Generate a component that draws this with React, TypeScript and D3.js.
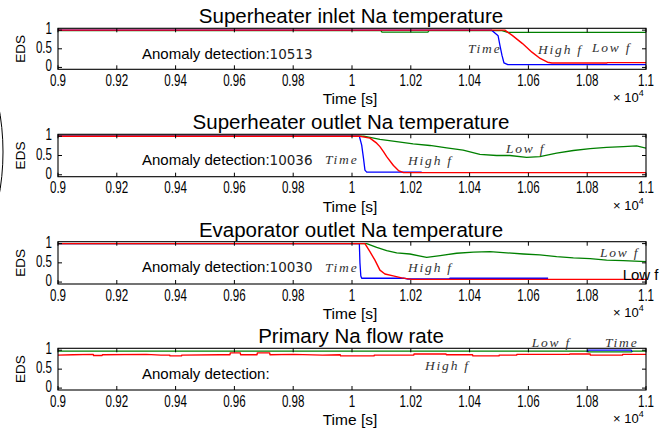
import * as d3 from "d3";

type Pt = [number, number];

const titles = [
  "Superheater inlet Na temperature",
  "Superheater outlet Na temperature",
  "Evaporator outlet Na temperature",
  "Primary Na flow rate",
];
const detections = ["10513", "10036", "10030", ""];
const xTicks = [0.9, 0.92, 0.94, 0.96, 0.98, 1.0, 1.02, 1.04, 1.06, 1.08, 1.1];
const yTicks = [0, 0.5, 1];

// "Time" method (blue)
const timeSeries: Pt[][] = [
  [[0.9, 1], [1.0475, 1], [1.0497, 0.85], [1.0503, 0.6], [1.051, 0.33], [1.0517, 0.12], [1.053, 0.075], [1.1, 0.075]],
  [[0.9, 1], [1.0025, 1], [1.0033, 0.77], [1.0039, 0.43], [1.0044, 0.12], [1.005, 0.07], [1.0237, 0.07]],
  [[0.9, 1], [1.0025, 1], [1.0027, 0.5], [1.003, 0.16], [1.0033, 0.1], [1.0175, 0.1], [1.019, 0.08], [1.033, 0.08], [1.0333, 0.1], [1.0667, 0.1]],
  [[1.08, 0.96], [1.0802, 1.0], [1.095, 1.0], [1.0952, 0.96]],
];

// "High f" method (red)
const highSeries: Pt[][] = [
  [[0.9, 1], [1.052, 1], [1.0545, 0.86], [1.058, 0.64], [1.0612, 0.41], [1.064, 0.24], [1.0665, 0.14], [1.068, 0.12], [1.0867, 0.12], [1.087, 0.13], [1.1, 0.13]],
  [[0.9, 1], [1.0027, 1], [1.0061, 0.95], [1.0084, 0.82], [1.0095, 0.73], [1.0107, 0.6], [1.0118, 0.47], [1.0135, 0.3], [1.0141, 0.24], [1.0158, 0.11], [1.0175, 0.055], [1.1, 0.055]],
  [[0.9, 1], [1.0044, 1], [1.0061, 0.79], [1.0078, 0.57], [1.0095, 0.31], [1.0112, 0.21], [1.014, 0.16], [1.0169, 0.11], [1.0203, 0.07], [1.1, 0.07]],
  [[0.9, 0.87], [0.905, 0.88], [0.912, 0.89], [0.9121, 0.86], [0.915, 0.86], [0.9151, 0.88], [0.93, 0.89], [0.935, 0.87], [0.938, 0.87], [0.9381, 0.85], [0.942, 0.85], [0.9421, 0.87], [0.955, 0.88], [0.9585, 0.88], [0.9586, 0.93], [0.962, 0.93], [0.9621, 0.88], [0.9677, 0.88], [0.9678, 0.93], [0.972, 0.93], [0.9721, 0.88], [0.98, 0.89], [0.99, 0.87], [0.996, 0.88], [0.9961, 0.85], [1.0075, 0.85], [1.0076, 0.87], [1.021, 0.87], [1.0211, 0.9], [1.032, 0.9], [1.0321, 0.88], [1.041, 0.88], [1.0411, 0.85], [1.05, 0.85], [1.0501, 0.87], [1.056, 0.87], [1.0561, 0.89], [1.074, 0.89], [1.0741, 0.9], [1.081, 0.9], [1.0811, 0.87], [1.092, 0.87], [1.0921, 0.89], [1.1, 0.89]],
];

// "Low f" method (green)
const lowSeries: Pt[][] = [
  [[0.9, 0.99], [1.0098, 0.99], [1.0102, 0.945], [1.0258, 0.945], [1.0262, 0.99], [1.051, 0.99], [1.053, 0.94], [1.1, 0.94]],
  [[0.9, 1], [1.004, 1], [1.0095, 0.92], [1.0152, 0.86], [1.0208, 0.8], [1.0265, 0.76], [1.0322, 0.7], [1.0378, 0.64], [1.0435, 0.53], [1.0492, 0.5], [1.0537, 0.5], [1.0594, 0.45], [1.0639, 0.47], [1.0696, 0.56], [1.0753, 0.63], [1.081, 0.68], [1.0866, 0.71], [1.0923, 0.73], [1.0968, 0.75], [1.1, 0.69]],
  [[0.9, 1], [1.005, 1], [1.0084, 0.9], [1.0118, 0.82], [1.0152, 0.76], [1.0197, 0.73], [1.0254, 0.64], [1.03, 0.69], [1.0356, 0.75], [1.0413, 0.78], [1.0469, 0.79], [1.0526, 0.76], [1.0583, 0.73], [1.0639, 0.71], [1.0696, 0.66], [1.0753, 0.63], [1.081, 0.61], [1.0866, 0.57], [1.0923, 0.56], [1.1, 0.53]],
  [[0.9, 0.975], [1.08, 0.975], [1.0805, 0.955], [1.095, 0.955], [1.0955, 0.975], [1.1, 0.975]],
];

const W = 665;
const H = 432;
const left = 58;
const right = 646;
const tops = [28.3, 134.3, 241.7, 348.3];
const bottoms = [69.3, 176.7, 284, 390];

// annotation positions: text, x px, offset from panel top
const notes: { t: string; x: number; dy: number; plain?: boolean }[][] = [
  [{ t: "Time", x: 468, dy: 24.5 }, { t: "High f", x: 538, dy: 25.2 }, { t: "Low f", x: 592, dy: 23.4 }],
  [{ t: "Time", x: 325, dy: 29.7 }, { t: "High f", x: 408, dy: 30.7 }, { t: "Low f", x: 506, dy: 18.4 }],
  [{ t: "Time", x: 325, dy: 30.3 }, { t: "High f", x: 408, dy: 30.3 }, { t: "Low f", x: 600, dy: 15 }, { t: "Low f", x: 622.7, dy: 38.3, plain: true }],
  [{ t: "Low f", x: 531.7, dy: -1.6 }, { t: "Time", x: 605, dy: -1.6 }, { t: "High f", x: 425, dy: 21.7 }],
];

const sans = "'Liberation Sans', Arial, sans-serif";
const serif = "'Liberation Serif', 'Times New Roman', serif";

// narrow, slightly tall tick labels like the original plot
function TickLabel({ x, y, anchor, text }: { x: number; y: number; anchor: string; text: string }) {
  return (
    <text
      transform={`translate(${x},${y}) scale(0.8,1.08)`}
      textAnchor={anchor}
      fontFamily={sans}
      fontSize={14.5}
      fill="#000"
    >
      {text}
    </text>
  );
}

function Panel({ i }: { i: number }) {
  const top = tops[i];
  const bottom = bottoms[i];
  const x = d3.scaleLinear().domain([0.9, 1.1]).range([left, right]);
  const y = d3.scaleLinear().domain([-0.05, 1.05]).range([bottom, top]);
  const line = d3.line<Pt>().x((d) => x(d[0])).y((d) => y(d[1]));
  const cx = (left + right) / 2;
  const clipId = `clip${i}`;
  return (
    <g>
      <defs>
        <clipPath id={clipId}>
          <rect x={left} y={top} width={right - left} height={bottom - top} />
        </clipPath>
      </defs>
      <text x={cx - 1} y={top - 5} textAnchor="middle" fontFamily={sans} fontSize={20.5} fill="#000">
        {titles[i]}
      </text>
      <g clipPath={`url(#${clipId})`} fill="none" strokeLinejoin="round">
        <path d={line(lowSeries[i]) || ""} stroke="#008000" strokeWidth={1.3} />
        <path d={line(timeSeries[i]) || ""} stroke="#0000ff" strokeWidth={1.3} />
        <path d={line(highSeries[i]) || ""} stroke="#ff0000" strokeWidth={1.4} />
      </g>
      <rect x={left} y={top} width={right - left} height={bottom - top} fill="none" stroke="#000" strokeWidth={1.1} />
      {xTicks.map((t) => (
        <g key={t}>
          <line x1={x(t)} x2={x(t)} y1={bottom} y2={bottom - 4} stroke="#000" />
          <line x1={x(t)} x2={x(t)} y1={top} y2={top + 4} stroke="#000" />
          <TickLabel x={x(t)} y={bottom + 16.5} anchor="middle" text={String(+t.toFixed(2))} />
        </g>
      ))}
      {yTicks.map((t) => (
        <g key={t}>
          <line x1={left} x2={left + 4} y1={y(t)} y2={y(t)} stroke="#000" />
          <line x1={right} x2={right - 4} y1={y(t)} y2={y(t)} stroke="#000" />
          <TickLabel x={52} y={y(t) + 4} anchor="end" text={String(t)} />
        </g>
      ))}
      <text
        transform={`translate(25,${(top + bottom) / 2}) rotate(-90)`}
        textAnchor="middle"
        fontFamily={sans}
        fontSize={13.5}
        fill="#000"
      >
        EDS
      </text>
      <text x={cx - 2} y={bottom + 35} textAnchor="middle" fontFamily={sans} fontSize={15.5} fill="#000">
        Time [s]
      </text>
      <text x={613} y={bottom + 33} fontFamily={sans} fontSize={13} fill="#000">
        {"\u00d7 10"}
        <tspan dy={-6} fontSize={9}>4</tspan>
      </text>
      <text x={142} y={top + 30.5} fontFamily={sans} fontSize={15} fill="#000">
        Anomaly detection:
        <tspan fontFamily="'DejaVu Sans', sans-serif" fontSize={13.5} fill="#222">
          {detections[i]}
        </tspan>
      </text>
      {notes[i].map((n, k) =>
        n.plain ? (
          <text key={k} x={n.x} y={top + n.dy} fontFamily={sans} fontSize={15} fill="#000">
            {n.t}
          </text>
        ) : (
          <text
            key={k}
            x={n.x}
            y={top + n.dy}
            fontFamily={serif}
            fontStyle="italic"
            fontSize={13.5}
            letterSpacing={1.8}
            fill="#333"
          >
            {n.t}
          </text>
        )
      )}
    </g>
  );
}

export default function App() {
  return (
    <svg
      width={W}
      height={H}
      style={{ position: "absolute", left: 0, top: 0, background: "#fff" }}
    >
      <rect width={W} height={H} fill="#fff" />
      <ellipse cx={-60} cy={152} rx={63} ry={125} fill="none" stroke="#000" strokeWidth={1} />
      {titles.map((_, i) => (
        <Panel key={i} i={i} />
      ))}
    </svg>
  );
}
